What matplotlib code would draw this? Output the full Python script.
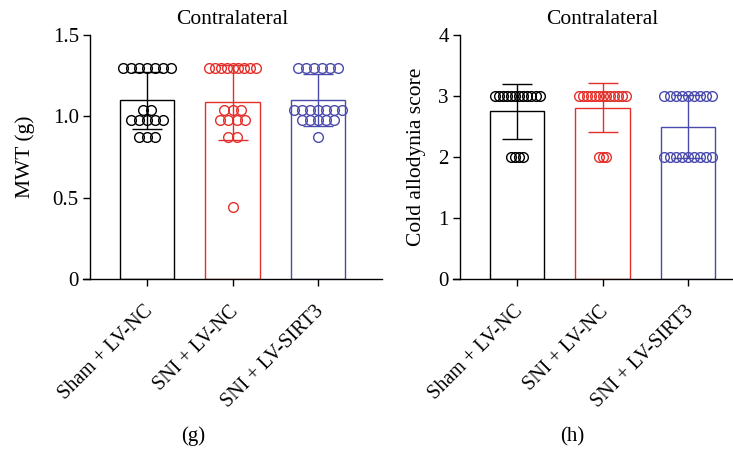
import matplotlib
matplotlib.use('Agg')
import matplotlib.pyplot as plt
import numpy as np

plt.rcParams['font.family'] = ['Liberation Serif', 'DejaVu Serif']
plt.rcParams['font.size'] = 15

# ==[0] Data
groups = ['Sham + LV-NC', 'SNI + LV-NC', 'SNI + LV-SIRT3']
colors = ['#000000', '#e4302b', '#4a4aad']

# Mechanical withdrawal threshold (g), individual animals
mwt_sham = [1.3, 1.3, 1.3, 1.3, 1.3, 1.3, 1.3,
            1.04, 1.04,
            0.98, 0.98, 0.98, 0.98, 0.98,
            0.87, 0.87, 0.87]
mwt_sni = [1.3, 1.3, 1.3, 1.3, 1.3, 1.3, 1.3, 1.3, 1.3,
           1.04, 1.04, 1.04,
           0.98, 0.98, 0.98, 0.98,
           0.87, 0.87,
           0.44]
mwt_sirt3 = [1.3, 1.3, 1.3, 1.3, 1.3, 1.3,
             1.04, 1.04, 1.04, 1.04, 1.04, 1.04, 1.04,
             0.98, 0.98, 0.98, 0.98, 0.98,
             0.87]
mwt_mean = [1.10, 1.086, 1.10]
mwt_sd = [0.175, 0.23, 0.16]

# Cold allodynia score, individual animals
cold_sham = [3, 3, 3, 3, 3, 3, 3, 3, 3, 3, 3, 3,
             2, 2, 2, 2]
cold_sni = [3, 3, 3, 3, 3, 3, 3, 3, 3, 3, 3, 3, 3,
            2, 2, 2]
cold_sirt3 = [3, 3, 3, 3, 3, 3, 3, 3, 3,
              2, 2, 2, 2, 2, 2, 2, 2, 2]
cold_mean = [2.75, 2.81, 2.50]
cold_sd = [0.45, 0.40, 0.51]


def swarm_offsets(values, spacing, max_width):
    # spread equal values side by side, squeezing rows that get too wide
    values = np.asarray(values, dtype=float)
    offs = np.zeros(len(values))
    for v in np.unique(values):
        idx = np.where(values == v)[0]
        k = len(idx)
        if k == 1:
            continue
        s = min(spacing, max_width / (k - 1))
        offs[idx] = (np.arange(k) - (k - 1) / 2.0) * s
    return offs


def draw_panel(ax, pts, means, sds, spacings, max_width, ylim, yticks, ylabels,
               ylabel, labelpad, tag, tag_x):
    x = np.arange(len(groups))
    for i in range(len(groups)):
        ax.bar(x[i], means[i], width=0.64, facecolor='white', edgecolor=colors[i],
               linewidth=1.0, zorder=1)
        ax.errorbar(x[i], means[i], yerr=sds[i], color=colors[i], capsize=10.5,
                    elinewidth=1.0, capthick=1.0, zorder=2)
        xs = x[i] + swarm_offsets(pts[i], spacings[i], max_width)
        ax.plot(xs, pts[i], 'o', ms=7, mfc='none', mec=colors[i], mew=1.0,
                zorder=3, clip_on=False)

    ax.set_xlim(-0.75, 2.75)
    ax.set_ylim(*ylim)
    ax.set_yticks(yticks)
    ax.set_yticklabels(ylabels)
    ax.set_xticks(x)
    ax.set_xticklabels([])
    # rotated group names, right end just under each tick
    for xi, name in zip(x, groups):
        ax.annotate(name, xy=(xi, 0), xycoords=('data', 'axes fraction'),
                    xytext=(-2.5, -16.5), textcoords='offset points',
                    rotation=45, ha='right', va='top', rotation_mode='anchor',
                    fontsize=14.5)

    ax.spines['top'].set_visible(False)
    ax.spines['right'].set_visible(False)
    ax.spines['left'].set_position(('axes', 0.0234))
    for sp in ('left', 'bottom'):
        ax.spines[sp].set_linewidth(1.0)
    ax.tick_params(axis='both', length=5, width=1.0, direction='out', labelsize=15, pad=3)
    ax.set_ylabel(ylabel, fontsize=15.5, labelpad=labelpad)
    ax.set_title('Contralateral', fontsize=15.5, pad=8)
    ax.text(tag_x, -0.645, tag, transform=ax.transAxes, ha='center', va='center', fontsize=15)


fig = plt.figure(figsize=(7.33, 4.49), dpi=100)

ax1 = fig.add_axes([0.1132, 0.3786, 0.408, 0.5434])
draw_panel(ax1, [mwt_sham, mwt_sni, mwt_sirt3], mwt_mean, mwt_sd,
           [0.094, 0.094, 0.094], 0.56, (0, 1.5), [0, 0.5, 1.0, 1.5],
           ['0', '0.5', '1.0', '1.5'], 'MWT (g)', 13, '(g)', 0.37)

ax2 = fig.add_axes([0.618, 0.3786, 0.408, 0.5434])
draw_panel(ax2, [cold_sham, cold_sni, cold_sirt3], cold_mean, cold_sd,
           [0.048, 0.045, 0.07], 0.57, (0, 4), [0, 1, 2, 3, 4],
           ['0', '1', '2', '3', '4'], 'Cold allodynia score', 9, '(h)', 0.4)

fig.savefig('out.png', dpi=100)
